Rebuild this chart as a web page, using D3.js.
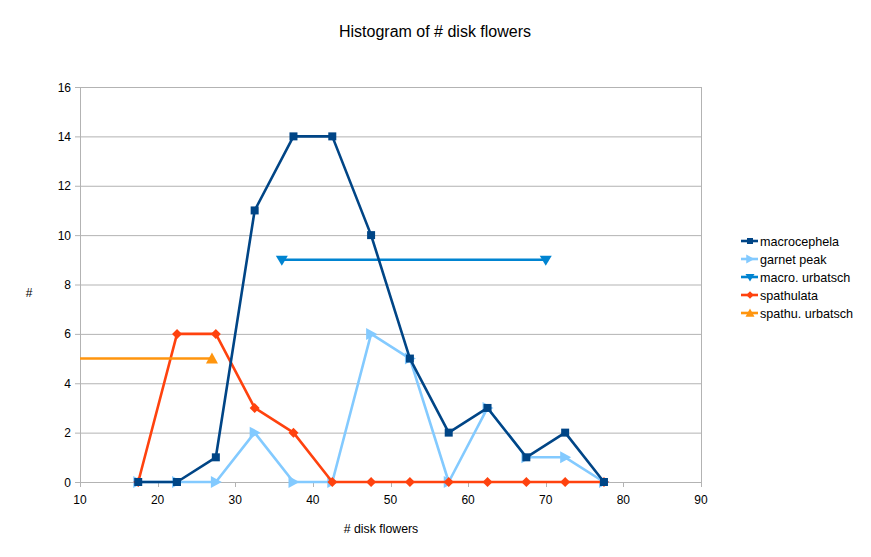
<!DOCTYPE html>
<html><head><meta charset="utf-8">
<script src="https://cdn.jsdelivr.net/npm/d3@7"></script>
<style>body{margin:0;background:#fff;font-family:"Liberation Sans",Arial,sans-serif;}</style>
</head><body><svg id="c" width="871" height="557"></svg>
<script>
const bins = [17.5,22.5,27.5,32.5,37.5,42.5,47.5,52.5,57.5,62.5,67.5,72.5,77.5];
const macrocephela = [0,0,1,11,14,14,10,5,2,3,1,2,0];
const garnetPeak   = [0,0,0,2,0,0,6,5,0,3,1,1,0];
const spathulata   = [0,6,6,3,2,0,0,0,0,0,0,0,0];
const macroUrbatschX = [36,70];
const macroUrbatschY = [9,9];
const spathuUrbatschX = [5,27];
const spathuUrbatschY = [5,5];
const xTicks = [10,20,30,40,50,60,70,80,90];
const yTicks = [0,2,4,6,8,10,12,14,16];

const svg = d3.select("#c");
const L=80,R=701,T=87,B=482;
const x = d3.scaleLinear().domain([10,90]).range([L,R]);
const y = d3.scaleLinear().domain([0,16]).range([B,T]);
const grid="#b3b3b3";

svg.append("g").selectAll("line").data(yTicks).join("line")
  .attr("x1",L-5).attr("x2",R).attr("y1",d=>y(d)+0.5).attr("y2",d=>y(d)+0.5)
  .attr("stroke",grid).attr("stroke-width",1);
svg.append("line").attr("x1",L+0.5).attr("x2",L+0.5).attr("y1",T).attr("y2",B+5).attr("stroke",grid);
svg.append("line").attr("x1",R+0.5).attr("x2",R+0.5).attr("y1",T).attr("y2",B+5).attr("stroke",grid);
svg.append("g").selectAll("line").data(xTicks).join("line")
  .attr("x1",d=>Math.round(x(d))+0.5).attr("x2",d=>Math.round(x(d))+0.5).attr("y1",B).attr("y2",B+5).attr("stroke",grid);
svg.append("g").selectAll("text").data(xTicks).join("text")
  .attr("x",d=>x(d)).attr("y",B+22).attr("text-anchor","middle")
  .attr("font-size",12).attr("fill","#000").text(d=>d);
svg.append("g").selectAll("text").data(yTicks).join("text")
  .attr("x",L-9).attr("y",d=>y(d)+4.5).attr("text-anchor","end")
  .attr("font-size",12).attr("fill","#000").text(d=>d);

svg.append("text").attr("x",435).attr("y",37).attr("text-anchor","middle").attr("font-size",16).text("Histogram of # disk flowers");
svg.append("text").attr("x",381).attr("y",533).attr("text-anchor","middle").attr("font-size",12.3).text("# disk flowers");
svg.append("text").attr("x",29).attr("y",297).attr("text-anchor","middle").attr("font-size",12).text("#");

svg.append("defs").append("clipPath").attr("id","clip").append("rect")
  .attr("x",L).attr("y",T-10).attr("width",R-L).attr("height",B-T+20);

const line = d3.line().x(d=>x(d[0])).y(d=>y(d[1]));
const series = [
  {name:"macrocephela", color:"#004586", xs:bins, ys:macrocephela, m:"square"},
  {name:"garnet peak", color:"#83caff", xs:bins, ys:garnetPeak, m:"right"},
  {name:"macro. urbatsch", color:"#0084d1", xs:macroUrbatschX, ys:macroUrbatschY, m:"down"},
  {name:"spathulata", color:"#ff420e", xs:bins, ys:spathulata, m:"diamond"},
  {name:"spathu. urbatsch", color:"#ff950e", xs:spathuUrbatschX, ys:spathuUrbatschY, m:"up"}
];
function markerPath(m,s){
  s = s||1;
  switch(m){
    case "square": return `M${-4*s},${-4*s}h${8*s}v${8*s}h${-8*s}z`;
    case "right": return `M${-5*s},${-6*s}L${6*s},0L${-5*s},${6*s}z`;
    case "down": return `M${-6*s},${-4*s}L${6*s},${-4*s}L0,${6*s}z`;
    case "up": return `M${-6*s},${5*s}L${6*s},${5*s}L0,${-6*s}z`;
    case "diamond": return `M0,${-5*s}L${5*s},0L0,${5*s}L${-5*s},0z`;
  }
}
const plot = svg.append("g").attr("clip-path","url(#clip)");
[1,3,4,2,0].forEach(i=>{
  const s=series[i];
  const pts=s.xs.map((v,j)=>[v,s.ys[j]]);
  const g=plot.append("g");
  g.append("path").attr("d",line(pts)).attr("fill","none").attr("stroke",s.color).attr("stroke-width",2.6).attr("stroke-linejoin","round");
  g.selectAll("path.m").data(pts).join("path").attr("class","m")
    .attr("transform",d=>`translate(${x(d[0])},${y(d[1])})`)
    .attr("d",markerPath(s.m)).attr("fill",s.color);
});

const lg=svg.append("g");
series.forEach((s,i)=>{
  const yy=241+i*18;
  lg.append("line").attr("x1",741).attr("x2",758).attr("y1",yy).attr("y2",yy).attr("stroke",s.color).attr("stroke-width",2.6);
  lg.append("path").attr("transform",`translate(750,${yy})`).attr("d",markerPath(s.m,0.75)).attr("fill",s.color);
  lg.append("text").attr("x",760).attr("y",yy+4.5).attr("font-size",12.6).text(s.name);
});
</script></body></html>
